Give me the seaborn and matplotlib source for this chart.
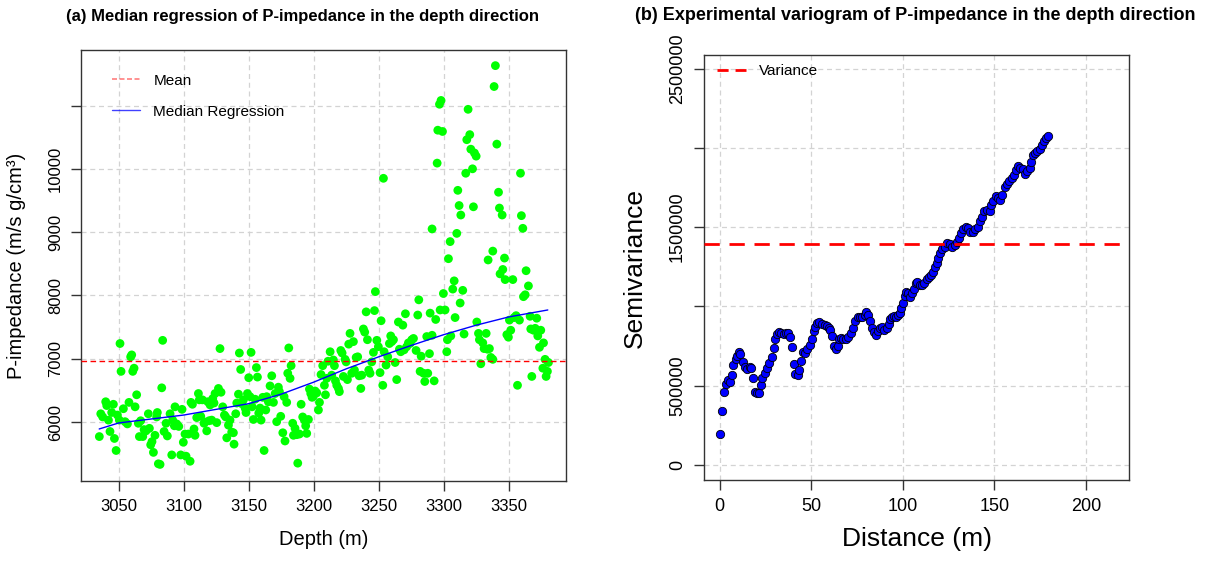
import numpy as np
import pandas as pd
import matplotlib
matplotlib.use("Agg")
import matplotlib.pyplot as plt
from matplotlib.lines import Line2D
import seaborn as sns

# ---------------- data: panel (a) ----------------
depth = [3035.1, 3036.2, 3037.7, 3040.0, 3040.8, 3042.1, 3043.3, 3044.6, 3045.9, 3046.7,
         3048.0, 3049.0, 3050.5, 3051.0, 3051.8, 3053.6, 3054.9, 3056.7, 3057.9, 3059.2,
         3060.0, 3060.8, 3061.8, 3062.6, 3063.8, 3065.1, 3065.9, 3066.9, 3068.5, 3069.5,
         3071.0, 3072.8, 3073.6, 3074.6, 3075.6, 3076.7, 3077.9, 3079.2, 3079.7, 3080.5,
         3081.8, 3083.1, 3083.8, 3084.9, 3086.4, 3087.4, 3089.5, 3090.8, 3091.5, 3092.8,
         3093.3, 3094.6, 3096.2, 3097.7, 3098.7, 3099.7, 3101.0, 3101.8, 3103.6, 3104.9,
         3105.6, 3106.7, 3107.9, 3108.7, 3110.0, 3111.3, 3112.0, 3113.1, 3114.4, 3115.6,
         3116.4, 3117.7, 3118.5, 3119.5, 3120.3, 3121.5, 3122.3, 3123.3, 3124.1, 3125.4,
         3126.7, 3127.9, 3128.7, 3130.0, 3131.3, 3132.3, 3133.1, 3134.4, 3135.6, 3136.9,
         3138.2, 3138.7, 3140.0, 3140.8, 3142.1, 3142.8, 3143.8, 3144.6, 3145.9, 3147.2,
         3147.9, 3149.0, 3150.0, 3151.0, 3151.8, 3152.6, 3153.6, 3154.9, 3155.9, 3156.7,
         3157.7, 3158.7, 3159.5, 3160.8, 3161.8, 3163.1, 3163.8, 3165.1, 3166.4, 3167.7,
         3169.0, 3170.3, 3171.5, 3172.8, 3173.6, 3174.6, 3176.2, 3177.2, 3177.9, 3179.2,
         3180.0, 3180.8, 3181.8, 3182.6, 3183.8, 3184.4, 3185.6, 3186.9, 3187.7, 3189.0,
         3190.3, 3191.5, 3192.8, 3193.8, 3194.6, 3195.9, 3196.7, 3197.7, 3198.7, 3199.7,
         3201.0, 3202.3, 3203.6, 3204.4, 3205.6, 3206.9, 3208.2, 3209.0, 3210.0, 3211.0,
         3212.6, 3213.8, 3215.1, 3215.9, 3216.7, 3217.7, 3219.0, 3219.7, 3220.8, 3221.8,
         3222.8, 3224.1, 3224.9, 3225.9, 3226.9, 3227.9, 3229.2, 3230.5, 3231.3, 3232.6,
         3233.8, 3234.9, 3236.2, 3236.9, 3238.2, 3239.2, 3240.3, 3241.3, 3242.3, 3243.3,
         3244.6, 3245.9, 3246.7, 3247.4, 3248.5, 3249.7, 3251.0, 3251.8, 3253.1, 3254.1,
         3255.6, 3256.9, 3258.2, 3259.2, 3260.0, 3261.3, 3262.6, 3263.8, 3265.1, 3265.9,
         3266.9, 3268.5, 3269.5, 3270.5, 3271.5, 3272.8, 3274.1, 3275.4, 3276.7, 3278.7,
         3280.0, 3280.8, 3281.8, 3282.6, 3284.4, 3285.4, 3286.9, 3287.7, 3289.0, 3289.5,
         3291.0, 3292.6, 3293.8, 3297.2, 3299.7, 3301.0, 3302.3, 3302.8, 3305.4, 3306.9,
         3308.0, 3308.7, 3312.6, 3314.6, 3315.6, 3325.4, 3326.7, 3327.4, 3328.5, 3330.0,
         3331.0, 3332.6, 3333.6, 3335.1, 3336.2, 3337.7, 3343.3, 3345.4, 3347.2, 3348.5,
         3349.7, 3350.5, 3351.5, 3353.1, 3354.1, 3355.6, 3356.7, 3358.2, 3361.3, 3362.6,
         3363.3, 3365.1, 3366.4, 3366.9, 3367.7, 3369.0, 3370.3, 3371.5, 3372.3, 3373.6,
         3374.6, 3376.2, 3376.7, 3377.9, 3378.7, 3379.7, 3380.5,
         3253.6, 3294.9, 3295.4, 3296.7, 3297.9, 3299.0, 3291.0, 3303.6, 3304.9, 3310.0,
         3310.8, 3311.8, 3313.1, 3316.9, 3317.7, 3318.7, 3320.0, 3320.8, 3322.1, 3322.8,
         3323.6, 3324.9, 3334.1, 3337.7, 3338.7, 3339.7, 3340.8, 3342.1, 3342.8, 3344.9,
         3346.7, 3359.0, 3359.7, 3360.8]
p_impedance = [5770, 6130, 6080, 6320, 6260, 6030, 5850, 6150, 6280, 5740,
               5550, 6110, 6030, 7240, 6800, 6210, 6005, 5970, 6310, 7030,
               7060, 6800, 6850, 6240, 6430, 5980, 5770, 6020, 5770, 5880,
               5860, 6130, 5900, 5640, 5690, 5520, 5790, 6080, 6150, 5340,
               5330, 6540, 7290, 5850, 5980, 5780, 6130, 5480, 6030, 5940,
               6240, 5970, 5930, 5480, 6200, 5680, 5810, 5460, 5810, 5380,
               6310, 6280, 5890, 5790, 6070, 6450, 6350, 6090, 6350, 5980,
               6000, 5860, 6320, 6020, 6270, 6030, 6370, 6300, 6450, 5990,
               6530, 7160, 6470, 6240, 6110, 6080, 5750, 5950, 6030, 5840,
               5830, 5650, 6130, 6300, 6440, 7090, 6830, 6290, 6350, 6220,
               6150, 6450, 6700, 6400, 7100, 6240, 6040, 6360, 6860, 6710,
               6140, 6220, 6030, 6390, 5550, 6190, 6400, 6320, 6570, 6730,
               6310, 6450, 6005, 6550, 6480, 6090, 5830, 6400, 5700, 6310,
               6770, 7170, 6690, 6890, 5980, 5790, 5900, 5800, 5350, 5810,
               6280, 6080, 6030, 5940, 5820, 6040, 6520, 6450, 6390, 6410,
               6490, 6460, 6190, 6310, 6750, 6890, 6580, 6430, 6690, 6960,
               7110, 6740, 6980, 6890, 6650, 6580, 6530, 6480, 7130, 7090,
               6720, 6990, 6950, 6670, 7230, 7400, 6770, 7270, 6820, 7020,
               7030, 6730, 6530, 6740, 7470, 7420, 7740, 7300, 6820, 6770,
               6950, 7100, 7760, 8060, 7290, 7190, 6780, 7600, 6580, 7110,
               6900, 7030, 7240, 7360, 7270, 7300, 6940, 6670, 7580, 7150,
               7110, 7530, 7140, 7710, 7190, 7250, 7240, 7300, 7320, 7130,
               7690, 7930, 6800, 7040, 6770, 6640, 7350, 6770, 7080, 7720,
               7370, 6650, 7620, 7770, 8030, 7770, 7110, 7300, 7360, 8100,
               8230, 7650, 7880, 8080, 7390, 7580, 7400, 7300, 6920, 7250,
               7160, 7400, 7150, 7160, 7020, 6990, 8340, 8410, 8250, 7380,
               7340, 7610, 7450, 8250, 7650, 7680, 6580, 7610, 7980, 8010,
               8390, 8150, 7670, 7470, 6720, 7450, 7480, 7640, 7360, 7180,
               7450, 6850, 7250, 6990, 6720, 6800, 6940,
               9850, 10090, 10610, 11020, 11080, 10590, 9050, 8580, 8850, 8980,
               9660, 9420, 9270, 9930, 10460, 10940, 10540, 10310, 10000, 9400,
               10250, 10200, 8560, 8700, 11300, 11630, 10390, 9630, 9380, 9270,
               8590, 9930, 9260, 9060]

impedance_mean = 6960

# median regression curve
reg_depth = [3035, 3050, 3100, 3150, 3175, 3200, 3225, 3250, 3275, 3300, 3325, 3350, 3380]
reg_value = [5890, 5985, 6110, 6290, 6440, 6630, 6840, 7030, 7210, 7380, 7530, 7660, 7770]

depth_ticks = [3050, 3100, 3150, 3200, 3250, 3300, 3350]
imp_ticks = [6000, 7000, 8000, 9000, 10000, 11000]
imp_tick_labels = ["6000", "7000", "8000", "9000", "10000", ""]

# ---------------- data: panel (b) ----------------
lag_distance = [0.4, 1.3, 2.4, 3.3, 4.5, 5.5, 6.6, 7.5, 8.8, 9.7,
                10.6, 11.3, 12.6, 13.7, 15.0, 16.3, 17.3, 18.2, 19.3, 20.4,
                21.5, 22.5, 23.3, 24.6, 25.7, 27.0, 28.4, 29.5, 30.4, 31.3,
                32.4, 33.7, 35.0, 36.4, 37.5, 38.4, 39.3, 40.3, 41.3, 42.8,
                43.5, 44.4, 45.3, 46.6, 47.9, 49.2, 50.2, 51.3, 52.2, 53.3,
                54.5, 55.8, 57.3, 58.5, 59.6, 60.5, 61.4, 62.2, 63.3, 64.4,
                65.4, 66.5, 67.6, 69.0, 70.3, 71.6, 73.0, 74.1, 75.4, 76.6,
                77.7, 79.2, 80.1, 81.0, 82.1, 83.0, 84.3, 85.2, 86.3, 87.4,
                88.6, 89.9, 91.2, 92.3, 93.2, 94.1, 95.2, 96.3, 97.4, 98.3,
                99.0, 100.0, 101.0, 101.8, 102.9, 104.0, 105.0, 106.0, 107.0, 108.0,
                109.3, 110.6, 111.8, 113.0, 114.2, 115.5, 116.7, 117.6, 118.7, 119.5,
                120.3, 121.4, 122.9, 124.3, 125.6, 126.9, 128.4, 129.6, 130.9, 132.0,
                133.1, 134.4, 135.6, 136.9, 138.4, 139.6, 141.0, 142.1, 143.4, 144.6,
                146.1, 147.4, 148.3, 149.4, 150.7, 151.9, 153.2, 154.3, 155.6, 156.9,
                158.3, 159.6, 160.7, 162.0, 163.2, 164.3, 165.6, 166.9, 168.0, 169.3,
                170.2, 171.1, 172.4, 173.5, 174.8, 176.1, 177.2, 178.5, 179.4]
semivariance = [194000, 339000, 457000, 509000, 532000, 525000, 568000, 627000, 667000, 686000,
                713000, 697000, 650000, 620000, 606000, 620000, 610000, 545000, 461000, 450000,
                455000, 503000, 545000, 577000, 608000, 640000, 682000, 735000, 793000, 825000,
                838000, 829000, 825000, 829000, 833000, 804000, 745000, 634000, 573000, 566000,
                598000, 657000, 713000, 703000, 728000, 756000, 792000, 846000, 871000, 892000,
                903000, 886000, 882000, 875000, 865000, 850000, 812000, 751000, 730000, 751000,
                793000, 802000, 792000, 793000, 804000, 833000, 865000, 907000, 930000, 930000,
                930000, 945000, 962000, 945000, 907000, 861000, 840000, 819000, 844000, 861000,
                871000, 850000, 861000, 886000, 918000, 930000, 939000, 935000, 945000, 960000,
                991000, 1023000, 1065000, 1093000, 1082000, 1057000, 1082000, 1107000, 1145000, 1156000,
                1135000, 1135000, 1149000, 1170000, 1187000, 1198000, 1219000, 1250000, 1275000, 1303000,
                1334000, 1360000, 1377000, 1398000, 1392000, 1377000, 1388000, 1409000, 1430000, 1462000,
                1489000, 1504000, 1494000, 1472000, 1472000, 1487000, 1504000, 1536000, 1561000, 1599000,
                1609000, 1603000, 1641000, 1662000, 1694000, 1683000, 1673000, 1704000, 1753000, 1774000,
                1789000, 1810000, 1831000, 1858000, 1884000, 1873000, 1867000, 1837000, 1852000, 1873000,
                1911000, 1957000, 1968000, 1978000, 1993000, 2020000, 2041000, 2062000, 2077000]
variance = 1393000

dist_ticks = [0, 50, 100, 150, 200]
sv_ticks = [0, 500000, 1000000, 1500000, 2000000, 2500000]
sv_tick_labels = ["0", "500000", "", "1500000", "", "2500000"]

# ---------------- style ----------------
sns.set_theme(style="white")
plt.rcParams["font.family"] = ["Liberation Sans", "DejaVu Sans"]
plt.rcParams["axes.edgecolor"] = "#333333"
plt.rcParams["axes.linewidth"] = 1.0
plt.rcParams["text.color"] = "black"
plt.rcParams["axes.labelcolor"] = "black"

fig = plt.figure(figsize=(12.11, 5.62), dpi=100)
W, H = 1211, 562
ax1 = fig.add_axes([81 / W, 1 - 481 / H, (566 - 81) / W, (481 - 50) / H])
ax2 = fig.add_axes([704 / W, 1 - 480 / H, (1129 - 704) / W, (480 - 55) / H])

grid_kw = dict(color="#d3d3d3", linestyle=(0, (4, 3)), linewidth=0.9, zorder=0)

# ---------------- panel (a) ----------------
for t in depth_ticks:
    ax1.axvline(t, **grid_kw)
for t in imp_ticks:
    ax1.axhline(t, **grid_kw)

df_a = pd.DataFrame({"Depth": depth, "Imp": p_impedance})
sns.scatterplot(data=df_a, x="Depth", y="Imp", ax=ax1, color="#00ff00",
                s=40, edgecolor="none", linewidth=0, zorder=3)
ax1.axhline(impedance_mean, color="red", linestyle=(0, (4, 2.5)), linewidth=1.0, zorder=4)
df_r = pd.DataFrame({"Depth": reg_depth, "Med": reg_value})
sns.lineplot(data=df_r, x="Depth", y="Med", ax=ax1, color="blue", linewidth=1.0,
             zorder=5, estimator=None, sort=True)

ax1.set_xlim(3021, 3394)
ax1.set_ylim(5068, 11877)
ax1.set_xticks(depth_ticks)
ax1.set_xticklabels([str(t) for t in depth_ticks])
ax1.set_yticks(imp_ticks)
ax1.set_yticklabels(imp_tick_labels, rotation=90, va="center")
ax1.tick_params(axis="both", direction="out", length=7, width=1, color="#333333",
                labelcolor="black", labelsize=12, pad=6, left=True, bottom=True)
ax1.set_xlabel("Depth (m)", fontsize=14.5)
ax1.set_ylabel("P-impedance (m/s g/cm³)", fontsize=14.5)
ax1.yaxis.set_label_coords(-0.113, 0.5)
ax1.xaxis.set_label_coords(0.5, -0.114)

h1 = [Line2D([], [], color="red", alpha=0.5, linestyle=(0, (3, 1.5)), linewidth=1.2),
      Line2D([], [], color="blue", alpha=0.75, linewidth=1.0)]
ax1.legend(h1, ["Mean", "Median Regression"], loc="upper left",
           bbox_to_anchor=(0.064, 0.945), frameon=False, fontsize=11,
           handlelength=1.8, handletextpad=0.9, labelspacing=1.1,
           borderpad=0, borderaxespad=0)

# ---------------- panel (b) ----------------
for t in dist_ticks:
    ax2.axvline(t, **grid_kw)
for t in sv_ticks:
    ax2.axhline(t, **grid_kw)

df_b = pd.DataFrame({"Distance": lag_distance, "Semivariance": semivariance})
sns.scatterplot(data=df_b, x="Distance", y="Semivariance", ax=ax2, color="#0000ff",
                s=36, edgecolor="black", linewidth=0.6, zorder=3)
ax2.axhline(variance, color="red", linestyle=(0, (5.5, 3.5)), linewidth=2.0, zorder=4)

ax2.set_xlim(-8.6, 223.6)
ax2.set_ylim(-96600, 2587000)
ax2.set_xticks(dist_ticks)
ax2.set_xticklabels([str(t) for t in dist_ticks])
ax2.set_yticks(sv_ticks)
ax2.set_yticklabels(sv_tick_labels, rotation=90, va="center")
ax2.tick_params(axis="both", direction="out", length=7, width=1, color="#333333",
                labelcolor="black", labelsize=13, pad=6, left=True, bottom=True)
ax2.set_xlabel("Distance (m)", fontsize=19)
ax2.set_ylabel("Semivariance", fontsize=19)
ax2.yaxis.set_label_coords(-0.134, 0.5)
ax2.xaxis.set_label_coords(0.5, -0.11)

h2 = [Line2D([], [], color="red", linestyle=(0, (4, 2.5)), linewidth=2.0)]
ax2.legend(h2, ["Variance"], loc="upper left", bbox_to_anchor=(0.031, 0.978),
           frameon=False, fontsize=11, handlelength=1.9, handletextpad=0.85,
           borderpad=0, borderaxespad=0)

for ax in (ax1, ax2):
    for sp in ax.spines.values():
        sp.set_visible(True)
        sp.set_color("#333333")

fig.text(303 / W, 1 - 16 / H, "(a) Median regression of P-impedance in the depth direction",
         ha="center", va="center", fontsize=12, fontweight="bold", color="black")
fig.text(915 / W, 1 - 16 / H, "(b) Experimental variogram of P-impedance in the depth direction",
         ha="center", va="center", fontsize=13, fontweight="bold", color="black")

fig.savefig("out.png", dpi=100)
